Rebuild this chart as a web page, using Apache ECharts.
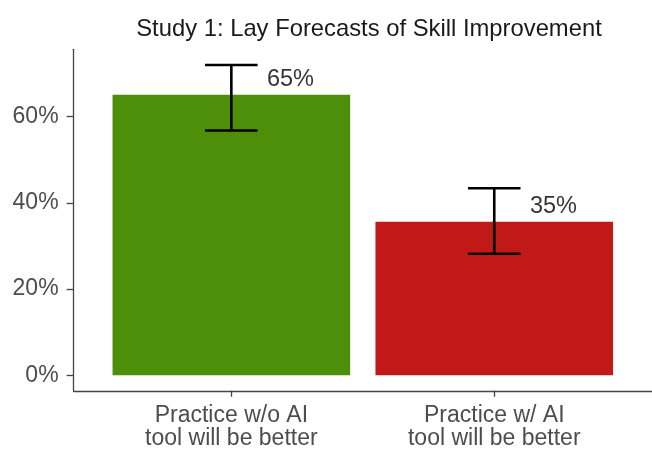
<!DOCTYPE html>
<html>
<head>
<meta charset="utf-8">
<script src="https://cdn.jsdelivr.net/npm/echarts@6/dist/echarts.min.js"></script>
<style>
  html, body { margin: 0; padding: 0; background: #fff; }
  #chart { width: 652px; height: 450px; }
</style>
</head>
<body>
<div id="chart"></div>
<script>
// data (percent)
var categories = ['Practice w/o AI\ntool will be better', 'Practice w/ AI\ntool will be better'];
var shares = [65.1, 35.6];
var ciLower = [56.8, 28.2];
var ciUpper = [72.0, 43.4];
var valueLabels = ['65%', '35%'];
var yTicks = [0, 20, 40, 60];
var barColors = ['#4e8f0a', '#c11818'];

var font = '"Liberation Sans", Arial, sans-serif';
var chart = echarts.init(document.getElementById('chart'), null, { renderer: 'canvas' });

var option = {
  animation: false,
  backgroundColor: '#fff',
  title: {
    text: 'Study 1: Lay Forecasts of Skill Improvement',
    left: 364,
    top: 12,
    textAlign: 'center',
    textStyle: { fontFamily: font, fontSize: 23.8, fontWeight: 'normal', color: '#1a1a1a' }
  },
  grid: { left: 73.6, top: 49.3, width: 580.8, height: 343 },
  xAxis: {
    type: 'value',
    min: 0.4,
    max: 2.6,
    splitLine: { show: false },
    axisLine: { show: true, onZero: false, lineStyle: { color: '#444', width: 1.3 } },
    axisTick: { show: true, customValues: [1, 2], length: 6, lineStyle: { color: '#444', width: 1.3 } },
    axisLabel: {
      customValues: [1, 2],
      formatter: function (v) { return categories[Math.round(v) - 1]; },
      margin: 14,
      color: '#4d4d4d',
      fontFamily: font,
      fontSize: 23,
      lineHeight: 22.5
    }
  },
  yAxis: {
    type: 'value',
    min: -3.6,
    max: 75.65,
    splitLine: { show: false },
    axisLine: { show: true, onZero: false, lineStyle: { color: '#444', width: 1.3 } },
    axisTick: { show: true, customValues: yTicks, length: 7, lineStyle: { color: '#444', width: 1.3 } },
    axisLabel: {
      customValues: yTicks,
      formatter: '{value}%',
      margin: 15,
      color: '#4d4d4d',
      fontFamily: font,
      fontSize: 23
    }
  },
  series: [
    {
      type: 'bar',
      barWidth: 237.6,
      silent: true,
      z: 2,
      data: shares.map(function (v, i) {
        return { value: [i + 1, v], itemStyle: { color: barColors[i] } };
      })
    },
    {
      // error bars
      type: 'custom',
      silent: true,
      z: 5,
      data: shares.map(function (v, i) { return [i + 1, ciLower[i], ciUpper[i]]; }),
      renderItem: function (params, api) {
        var x = api.value(0);
        var lo = api.coord([x, api.value(1)]);
        var hi = api.coord([x, api.value(2)]);
        var half = api.size([0.2, 0])[0] / 2;
        var st = { stroke: '#000', lineWidth: 2.6 };
        return {
          type: 'group',
          children: [
            { type: 'line', shape: { x1: lo[0], y1: lo[1], x2: hi[0], y2: hi[1] }, style: st },
            { type: 'line', shape: { x1: lo[0] - half, y1: lo[1], x2: lo[0] + half, y2: lo[1] }, style: st },
            { type: 'line', shape: { x1: hi[0] - half, y1: hi[1], x2: hi[0] + half, y2: hi[1] }, style: st }
          ]
        };
      }
    },
    {
      // percentage labels, nudged right of the error bar
      type: 'scatter',
      silent: true,
      z: 6,
      symbolSize: 0,
      data: shares.map(function (v, i) {
        return { value: [i + 1 + 0.225, v + 3.6], name: valueLabels[i] };
      }),
      label: {
        show: true,
        position: 'inside',
        formatter: '{b}',
        color: '#000',
        fontFamily: font,
        fontSize: 23.5
      }
    }
  ]
};

chart.setOption(option);
</script>
</body>
</html>
